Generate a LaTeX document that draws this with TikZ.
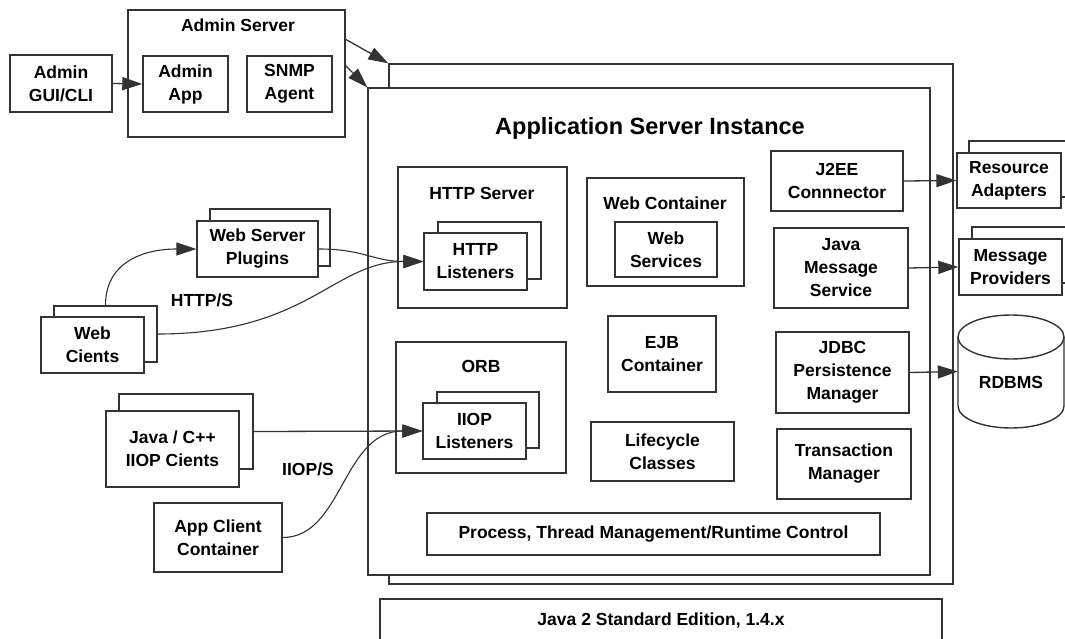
\documentclass[tikz,border=0pt]{standalone}
\usepackage{fontspec}
\setmainfont{Liberation Sans}
\usetikzlibrary{arrows.meta}
\definecolor{lc}{gray}{0.2}
\newcommand\lbl{\fontsize{17.5}{23}\selectfont\bfseries}
\newcommand\ttl{\fontsize{23.5}{27}\selectfont\bfseries}
\tikzset{
  box/.style={draw=lc, fill=white, line width=1.4pt, inner sep=0pt, align=center, font=\lbl},
  plain/.style={inner sep=0pt, align=center, font=\lbl},
  corners/.style n args={4}{minimum width={#3-#1}, minimum height={#4-#2}, at={({(#1+#3)/2},{(#2+#4)/2})}},
  arr/.style={draw=lc, line width=1.3pt, -{Triangle[length=20pt,width=13pt]}},
  carr/.style={draw=lc, line width=1.1pt, -{Triangle[length=20pt,width=13pt]}}
}
\begin{document}
\begin{tikzpicture}[x=1pt,y=-1pt]
\useasboundingbox (0,0) rectangle (1065,639);
\clip (0,0) rectangle (1065,639);
\fill[white] (0,0) rectangle (1065,639);
% Admin side
\node[box, corners={10}{55}{112}{112}] (gui) {Admin\\GUI/CLI};
\node[box, corners={128}{10}{345}{137}] (adminsrv) {};
\node[plain] (adminsrvtitle) at (238,25) {Admin Server};
\node[box, corners={143}{56}{228}{112}] (adminapp) {Admin\\App};
\node[box, corners={247}{56}{332}{112}] (snmp) {SNMP\\Agent};
% Application server instance
\node[box, corners={389}{64}{953}{584}] (asback) {};
\node[box, corners={368}{88}{930}{575}] (asfront) {};
\node[plain, font=\ttl] (astitle) at (650,128) {Application Server Instance};
% HTTP server
\node[box, corners={398}{167}{567}{308}] (httpsrv) {};
\node[plain] (httpsrvtitle) at (482,193) {HTTP Server};
\node[box, corners={438}{222}{541}{279}] (httplback) {};
\node[box, corners={424}{233}{527}{290}] (httpl) {HTTP\\Listeners};
% Web container
\node[box, corners={587}{178}{744}{286}] (webcont) {};
\node[plain] (webconttitle) at (665,203) {Web Container};
\node[box, corners={615}{222}{717}{277}] (websvc) {Web\\Services};
% right column
\node[box, corners={771}{151}{903}{211}] (j2ee) {J2EE\\Connnector};
\node[box, corners={774}{228}{908}{308}] (jms) {Java\\Message\\Service};
\node[box, corners={776}{332}{909}{413}] (jdbc) {JDBC\\Persistence\\Manager};
\node[box, corners={777}{429}{911}{499}] (tm) {Transaction\\Manager};
% middle
\node[box, corners={608}{316}{716}{392}] (ejb) {EJB\\Container};
\node[box, corners={591}{422}{734}{481}] (life) {Lifecycle\\Classes};
% ORB
\node[box, corners={396}{342}{566}{473}] (orb) {};
\node[plain] (orbtitle) at (481,366) {ORB};
\node[box, corners={437}{392}{539}{448}] (iiopback) {};
\node[box, corners={423}{403}{526}{459}] (iiop) {IIOP\\Listeners};
% process
\node[box, corners={427}{513}{880}{555}] (proc) {Process, Thread Management/Runtime Control};
% J2SE
\node[box, corners={380}{599}{942}{643}] (j2se) {Java 2 Standard Edition, 1.4.x};
% external resources
\node[box, corners={969}{141}{1080}{197}] (resback) {};
\node[box, corners={957}{153}{1061}{208}] (res) {Resource\\Adapters};
\node[box, corners={972}{227}{1080}{283}] (msgback) {};
\node[box, corners={959}{239}{1062}{295}] (msg) {Message\\Providers};
\draw[draw=lc, line width=1.4pt, fill=white] (958,337) -- (958,406) arc[start angle=180, end angle=360, x radius=53pt, y radius=22pt] -- (1064,337);
\draw[draw=lc, line width=1.4pt] (1011,337) ellipse [x radius=53pt, y radius=22pt];
\node[plain, corners={958}{315}{1064}{428}] (rdbms) {\raisebox{-11pt}[\height][0pt]{RDBMS}};
% clients
\node[box, corners={210}{209}{330}{266}] (wspback) {};
\node[box, corners={197}{221}{318}{277}] (wsp) {Web Server\\Plugins};
\node[box, corners={54}{306}{157}{362}] (wcback) {};
\node[box, corners={41}{317}{144}{373}] (wc) {Web\\Cients};
\node[plain] (httpslbl) at (202,300) {HTTP/S};
\node[box, corners={119}{394}{253}{469}] (jcback) {};
\node[box, corners={106}{411}{239}{487}] (jc) {Java / C++\\IIOP Cients};
\node[plain] (iiopslbl) at (308,469) {IIOP/S};
\node[box, corners={154}{503}{282}{572}] (acc) {App Client\\Container};
% connectors
\coordinate (a1) at (345,39);
\coordinate (a2) at (345,65);
\draw[arr] (gui.east) -- (adminapp.west);
\draw[arr] (a1) -- (asback.north west);
\draw[arr] (a2) -- (asfront.north west);
\draw[carr] (wcback.north) .. controls +(0,-45) and +(-50,0) .. (wsp.west);
\draw[carr] (wsp.east) .. controls +(45,0) and +(-50,0) .. (httpl.west);
\draw[carr] (wcback.east) .. controls +(150,0) and +(-90,0) .. (httpl.west);
\draw[arr] (jcback.east) -- (iiop.west);
\draw[carr] (acc.east) .. controls +(60,0) and +(-80,0) .. (iiop.west);
\draw[arr] (j2ee.east) -- (res.west);
\draw[arr] (jms.east) -- (msg.west);
\draw[arr] (jdbc.east) -- (rdbms.west);
\end{tikzpicture}
\end{document}
